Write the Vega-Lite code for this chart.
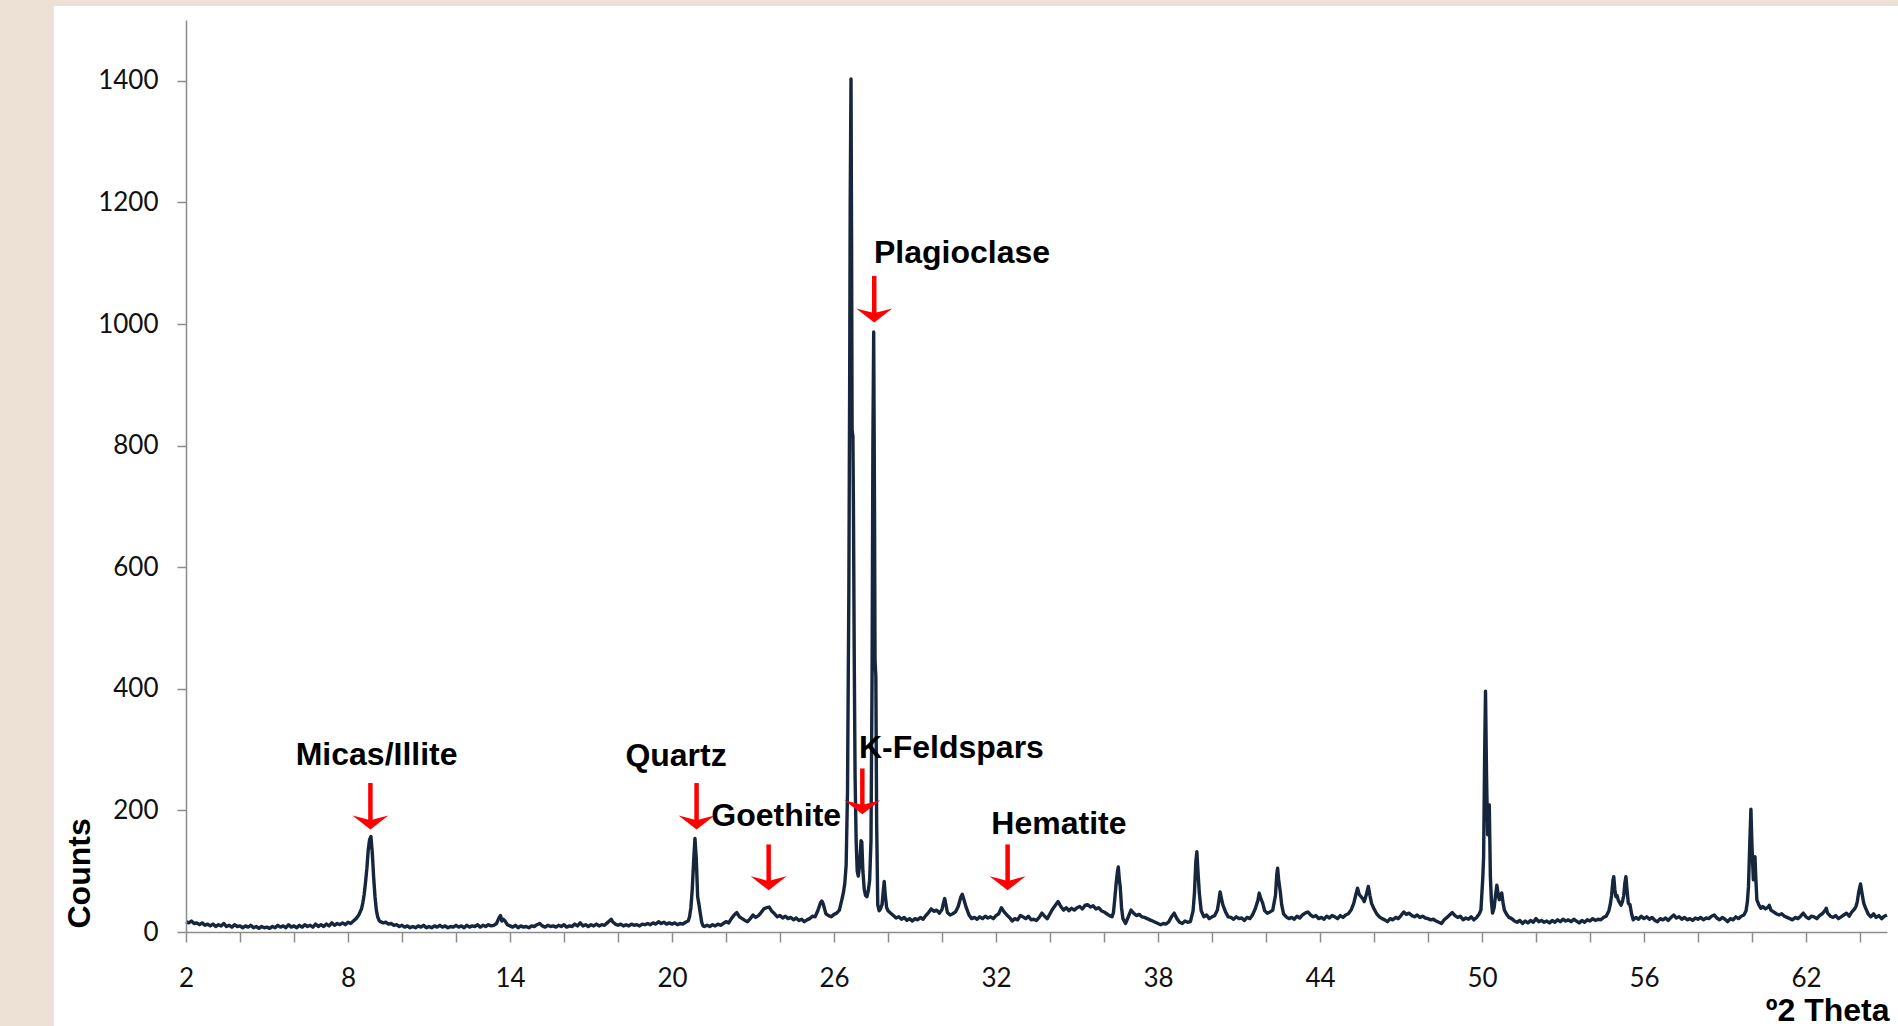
{
  "$schema": "https://vega.github.io/schema/vega-lite/v6.json",
  "width": 1701,
  "height": 912,
  "padding": {"left": 53, "top": 6, "right": 0, "bottom": 0},
  "autosize": {"type": "pad"},
  "background": "#EDE1D6",
  "config": {"view": {"stroke": null}},
  "datasets": {
    "xrd": [
      {"theta":2.0,"counts":17},{"theta":2.1,"counts":15},{"theta":2.2,"counts":18},{"theta":2.3,"counts":14},{"theta":2.4,"counts":15},{"theta":2.5,"counts":12},{"theta":2.6,"counts":15},{"theta":2.7,"counts":11},{"theta":2.8,"counts":13},{"theta":2.9,"counts":10},
      {"theta":3.0,"counts":13},{"theta":3.1,"counts":9},{"theta":3.2,"counts":12},{"theta":3.3,"counts":10},{"theta":3.4,"counts":14},{"theta":3.5,"counts":9},{"theta":3.6,"counts":11},{"theta":3.7,"counts":8},{"theta":3.8,"counts":12},{"theta":3.9,"counts":9},
      {"theta":4.0,"counts":10},{"theta":4.1,"counts":7},{"theta":4.2,"counts":10},{"theta":4.3,"counts":8},{"theta":4.4,"counts":11},{"theta":4.5,"counts":7},{"theta":4.6,"counts":9},{"theta":4.7,"counts":6},{"theta":4.8,"counts":9},{"theta":4.9,"counts":7},
      {"theta":5.0,"counts":8},{"theta":5.1,"counts":6},{"theta":5.2,"counts":9},{"theta":5.3,"counts":7},{"theta":5.4,"counts":11},{"theta":5.5,"counts":8},{"theta":5.6,"counts":10},{"theta":5.7,"counts":7},{"theta":5.8,"counts":12},{"theta":5.9,"counts":8},
      {"theta":6.0,"counts":10},{"theta":6.1,"counts":7},{"theta":6.2,"counts":11},{"theta":6.3,"counts":8},{"theta":6.4,"counts":12},{"theta":6.5,"counts":9},{"theta":6.6,"counts":11},{"theta":6.7,"counts":8},{"theta":6.8,"counts":13},{"theta":6.9,"counts":9},
      {"theta":7.0,"counts":12},{"theta":7.1,"counts":9},{"theta":7.2,"counts":13},{"theta":7.3,"counts":10},{"theta":7.4,"counts":15},{"theta":7.5,"counts":11},{"theta":7.6,"counts":14},{"theta":7.7,"counts":12},{"theta":7.8,"counts":15},{"theta":7.9,"counts":12},
      {"theta":8.0,"counts":16},{"theta":8.1,"counts":14},{"theta":8.2,"counts":18},{"theta":8.3,"counts":22},{"theta":8.4,"counts":28},{"theta":8.5,"counts":38},{"theta":8.55,"counts":48},{"theta":8.6,"counts":62},{"theta":8.65,"counts":82},{"theta":8.7,"counts":105},
      {"theta":8.75,"counts":135},{"theta":8.8,"counts":152},{"theta":8.85,"counts":157},{"theta":8.9,"counts":130},{"theta":8.95,"counts":90},{"theta":9.0,"counts":58},{"theta":9.05,"counts":36},{"theta":9.1,"counts":25},{"theta":9.15,"counts":19},{"theta":9.2,"counts":17},
      {"theta":9.3,"counts":15},{"theta":9.4,"counts":16},{"theta":9.5,"counts":13},{"theta":9.6,"counts":14},{"theta":9.7,"counts":11},{"theta":9.8,"counts":12},{"theta":9.9,"counts":9},{"theta":10.0,"counts":11},
      {"theta":10.1,"counts":8},{"theta":10.2,"counts":10},{"theta":10.3,"counts":7},{"theta":10.4,"counts":9},{"theta":10.5,"counts":7},{"theta":10.6,"counts":10},{"theta":10.7,"counts":8},{"theta":10.8,"counts":11},{"theta":10.9,"counts":7},{"theta":11.0,"counts":9},
      {"theta":11.1,"counts":7},{"theta":11.2,"counts":10},{"theta":11.3,"counts":8},{"theta":11.4,"counts":11},{"theta":11.5,"counts":8},{"theta":11.6,"counts":10},{"theta":11.7,"counts":7},{"theta":11.8,"counts":9},{"theta":11.9,"counts":8},{"theta":12.0,"counts":11},
      {"theta":12.1,"counts":8},{"theta":12.2,"counts":10},{"theta":12.3,"counts":7},{"theta":12.4,"counts":11},{"theta":12.5,"counts":8},{"theta":12.6,"counts":10},{"theta":12.7,"counts":9},{"theta":12.8,"counts":12},{"theta":12.9,"counts":8},{"theta":13.0,"counts":11},
      {"theta":13.1,"counts":9},{"theta":13.2,"counts":12},{"theta":13.3,"counts":10},{"theta":13.4,"counts":11},{"theta":13.5,"counts":14},{"theta":13.6,"counts":24},{"theta":13.65,"counts":27},{"theta":13.7,"counts":18},{"theta":13.75,"counts":21},{"theta":13.8,"counts":19},
      {"theta":13.9,"counts":12},{"theta":14.0,"counts":10},{"theta":14.1,"counts":8},{"theta":14.2,"counts":11},{"theta":14.3,"counts":7},{"theta":14.4,"counts":10},{"theta":14.5,"counts":8},{"theta":14.6,"counts":9},{"theta":14.7,"counts":7},{"theta":14.8,"counts":10},
      {"theta":14.9,"counts":9},{"theta":15.0,"counts":12},{"theta":15.1,"counts":14},{"theta":15.2,"counts":10},{"theta":15.3,"counts":8},{"theta":15.4,"counts":11},{"theta":15.5,"counts":9},{"theta":15.6,"counts":10},{"theta":15.7,"counts":8},{"theta":15.8,"counts":11},
      {"theta":15.9,"counts":9},{"theta":16.0,"counts":12},{"theta":16.1,"counts":8},{"theta":16.2,"counts":10},{"theta":16.3,"counts":9},{"theta":16.4,"counts":13},{"theta":16.5,"counts":10},{"theta":16.6,"counts":15},{"theta":16.7,"counts":10},{"theta":16.8,"counts":12},
      {"theta":16.9,"counts":9},{"theta":17.0,"counts":12},{"theta":17.1,"counts":10},{"theta":17.2,"counts":13},{"theta":17.3,"counts":10},{"theta":17.4,"counts":12},{"theta":17.5,"counts":11},{"theta":17.6,"counts":15},{"theta":17.7,"counts":19},{"theta":17.75,"counts":21},
      {"theta":17.8,"counts":17},{"theta":17.9,"counts":13},{"theta":18.0,"counts":11},{"theta":18.1,"counts":13},{"theta":18.2,"counts":10},{"theta":18.3,"counts":12},{"theta":18.4,"counts":10},{"theta":18.5,"counts":13},{"theta":18.6,"counts":11},{"theta":18.7,"counts":12},
      {"theta":18.8,"counts":10},{"theta":18.9,"counts":13},{"theta":19.0,"counts":12},{"theta":19.1,"counts":14},{"theta":19.2,"counts":12},{"theta":19.3,"counts":15},{"theta":19.4,"counts":13},{"theta":19.5,"counts":17},{"theta":19.6,"counts":14},{"theta":19.7,"counts":16},
      {"theta":19.8,"counts":13},{"theta":19.9,"counts":15},{"theta":20.0,"counts":13},{"theta":20.1,"counts":15},{"theta":20.2,"counts":12},{"theta":20.3,"counts":14},{"theta":20.4,"counts":13},{"theta":20.5,"counts":16},{"theta":20.6,"counts":18},{"theta":20.65,"counts":25},
      {"theta":20.7,"counts":40},{"theta":20.75,"counts":70},{"theta":20.8,"counts":115},{"theta":20.85,"counts":154},{"theta":20.9,"counts":120},{"theta":20.95,"counts":58},{"theta":21.0,"counts":45},{"theta":21.05,"counts":30},{"theta":21.1,"counts":16},{"theta":21.15,"counts":10},
      {"theta":21.2,"counts":9},{"theta":21.3,"counts":11},{"theta":21.4,"counts":9},{"theta":21.5,"counts":12},{"theta":21.6,"counts":10},{"theta":21.7,"counts":13},{"theta":21.8,"counts":11},{"theta":21.9,"counts":14},{"theta":22.0,"counts":17},{"theta":22.1,"counts":15},
      {"theta":22.2,"counts":22},{"theta":22.3,"counts":28},{"theta":22.4,"counts":32},{"theta":22.5,"counts":25},{"theta":22.6,"counts":22},{"theta":22.7,"counts":19},{"theta":22.8,"counts":17},{"theta":22.9,"counts":22},{"theta":23.0,"counts":28},{"theta":23.1,"counts":24},
      {"theta":23.2,"counts":27},{"theta":23.3,"counts":32},{"theta":23.4,"counts":38},{"theta":23.5,"counts":40},{"theta":23.6,"counts":41},{"theta":23.7,"counts":34},{"theta":23.8,"counts":30},{"theta":23.9,"counts":25},{"theta":24.0,"counts":27},{"theta":24.1,"counts":23},
      {"theta":24.2,"counts":26},{"theta":24.3,"counts":22},{"theta":24.4,"counts":24},{"theta":24.5,"counts":20},{"theta":24.6,"counts":23},{"theta":24.7,"counts":19},{"theta":24.8,"counts":21},{"theta":24.9,"counts":17},{"theta":25.0,"counts":20},{"theta":25.1,"counts":22},
      {"theta":25.2,"counts":26},{"theta":25.3,"counts":25},{"theta":25.4,"counts":35},{"theta":25.5,"counts":48},{"theta":25.55,"counts":51},{"theta":25.6,"counts":46},{"theta":25.7,"counts":30},{"theta":25.8,"counts":27},{"theta":25.9,"counts":25},{"theta":26.0,"counts":29},
      {"theta":26.1,"counts":31},{"theta":26.2,"counts":36},{"theta":26.3,"counts":55},{"theta":26.35,"counts":65},{"theta":26.4,"counts":80},{"theta":26.45,"counts":110},{"theta":26.5,"counts":230},{"theta":26.55,"counts":560},{"theta":26.58,"counts":900},{"theta":26.6,"counts":1200},
      {"theta":26.63,"counts":1403},{"theta":26.65,"counts":1150},{"theta":26.67,"counts":826},{"theta":26.7,"counts":815},{"theta":26.72,"counts":700},{"theta":26.75,"counts":450},{"theta":26.78,"counts":260},{"theta":26.82,"counts":150},{"theta":26.86,"counts":100},{"theta":26.9,"counts":92},
      {"theta":26.95,"counts":110},{"theta":27.0,"counts":150},{"theta":27.03,"counts":148},{"theta":27.07,"counts":100},{"theta":27.12,"counts":70},{"theta":27.17,"counts":60},{"theta":27.22,"counts":58},{"theta":27.27,"counts":68},{"theta":27.32,"counts":85},{"theta":27.37,"counts":150},
      {"theta":27.41,"counts":420},{"theta":27.44,"counts":800},{"theta":27.47,"counts":987},{"theta":27.5,"counts":700},{"theta":27.52,"counts":445},{"theta":27.55,"counts":420},{"theta":27.58,"counts":180},{"theta":27.62,"counts":45},{"theta":27.67,"counts":35},{"theta":27.72,"counts":38},
      {"theta":27.78,"counts":45},{"theta":27.83,"counts":70},{"theta":27.86,"counts":83},{"theta":27.9,"counts":60},{"theta":27.95,"counts":40},{"theta":28.0,"counts":35},{"theta":28.1,"counts":31},{"theta":28.2,"counts":27},{"theta":28.3,"counts":23},{"theta":28.4,"counts":25},
      {"theta":28.5,"counts":21},{"theta":28.6,"counts":24},{"theta":28.7,"counts":19},{"theta":28.8,"counts":22},{"theta":28.9,"counts":18},{"theta":29.0,"counts":22},{"theta":29.1,"counts":20},{"theta":29.2,"counts":24},{"theta":29.3,"counts":21},{"theta":29.4,"counts":27},
      {"theta":29.5,"counts":32},{"theta":29.6,"counts":38},{"theta":29.7,"counts":34},{"theta":29.8,"counts":36},{"theta":29.9,"counts":31},{"theta":30.0,"counts":37},{"theta":30.05,"counts":47},{"theta":30.1,"counts":55},{"theta":30.15,"counts":44},{"theta":30.2,"counts":32},
      {"theta":30.3,"counts":28},{"theta":30.4,"counts":30},{"theta":30.5,"counts":33},{"theta":30.6,"counts":42},{"theta":30.7,"counts":58},{"theta":30.75,"counts":62},{"theta":30.8,"counts":55},{"theta":30.9,"counts":40},{"theta":31.0,"counts":28},{"theta":31.1,"counts":22},
      {"theta":31.2,"counts":24},{"theta":31.3,"counts":21},{"theta":31.4,"counts":25},{"theta":31.5,"counts":22},{"theta":31.6,"counts":26},{"theta":31.7,"counts":23},{"theta":31.8,"counts":25},{"theta":31.9,"counts":22},{"theta":32.0,"counts":27},{"theta":32.1,"counts":30},
      {"theta":32.2,"counts":40},{"theta":32.3,"counts":33},{"theta":32.4,"counts":28},{"theta":32.5,"counts":24},{"theta":32.6,"counts":18},{"theta":32.7,"counts":22},{"theta":32.8,"counts":20},{"theta":32.9,"counts":27},{"theta":33.0,"counts":25},{"theta":33.1,"counts":22},
      {"theta":33.2,"counts":26},{"theta":33.3,"counts":20},{"theta":33.4,"counts":21},{"theta":33.5,"counts":19},{"theta":33.6,"counts":24},{"theta":33.7,"counts":31},{"theta":33.8,"counts":26},{"theta":33.9,"counts":22},{"theta":34.0,"counts":30},{"theta":34.1,"counts":38},
      {"theta":34.2,"counts":44},{"theta":34.3,"counts":50},{"theta":34.4,"counts":42},{"theta":34.5,"counts":36},{"theta":34.6,"counts":40},{"theta":34.7,"counts":35},{"theta":34.8,"counts":39},{"theta":34.9,"counts":36},{"theta":35.0,"counts":40},{"theta":35.1,"counts":42},
      {"theta":35.2,"counts":38},{"theta":35.3,"counts":44},{"theta":35.4,"counts":45},{"theta":35.5,"counts":41},{"theta":35.6,"counts":43},{"theta":35.7,"counts":38},{"theta":35.8,"counts":40},{"theta":35.9,"counts":35},{"theta":36.0,"counts":33},{"theta":36.1,"counts":30},
      {"theta":36.2,"counts":27},{"theta":36.3,"counts":25},{"theta":36.35,"counts":32},{"theta":36.4,"counts":55},{"theta":36.45,"counts":80},{"theta":36.5,"counts":100},{"theta":36.53,"counts":107},{"theta":36.57,"counts":85},{"theta":36.6,"counts":75},{"theta":36.65,"counts":40},
      {"theta":36.7,"counts":22},{"theta":36.8,"counts":14},{"theta":36.9,"counts":25},{"theta":37.0,"counts":36},{"theta":37.1,"counts":31},{"theta":37.2,"counts":27},{"theta":37.3,"counts":29},{"theta":37.4,"counts":25},{"theta":37.5,"counts":24},{"theta":37.6,"counts":22},
      {"theta":37.7,"counts":20},{"theta":37.8,"counts":18},{"theta":37.9,"counts":16},{"theta":38.0,"counts":14},{"theta":38.1,"counts":12},{"theta":38.2,"counts":14},{"theta":38.3,"counts":13},{"theta":38.4,"counts":17},{"theta":38.5,"counts":25},{"theta":38.6,"counts":31},
      {"theta":38.7,"counts":22},{"theta":38.8,"counts":16},{"theta":38.9,"counts":14},{"theta":39.0,"counts":18},{"theta":39.1,"counts":16},{"theta":39.2,"counts":17},{"theta":39.3,"counts":35},{"theta":39.35,"counts":64},{"theta":39.4,"counts":115},{"theta":39.44,"counts":132},
      {"theta":39.48,"counts":100},{"theta":39.53,"counts":64},{"theta":39.6,"counts":35},{"theta":39.7,"counts":25},{"theta":39.8,"counts":28},{"theta":39.9,"counts":22},{"theta":40.0,"counts":25},{"theta":40.1,"counts":27},{"theta":40.2,"counts":36},{"theta":40.25,"counts":50},
      {"theta":40.3,"counts":66},{"theta":40.35,"counts":55},{"theta":40.4,"counts":45},{"theta":40.5,"counts":33},{"theta":40.6,"counts":25},{"theta":40.7,"counts":24},{"theta":40.8,"counts":21},{"theta":40.9,"counts":25},{"theta":41.0,"counts":22},{"theta":41.1,"counts":23},
      {"theta":41.2,"counts":19},{"theta":41.3,"counts":24},{"theta":41.4,"counts":22},{"theta":41.5,"counts":28},{"theta":41.6,"counts":38},{"theta":41.7,"counts":52},{"theta":41.75,"counts":64},{"theta":41.8,"counts":56},{"theta":41.88,"counts":47},{"theta":41.95,"counts":35},
      {"theta":42.05,"counts":31},{"theta":42.15,"counts":33},{"theta":42.25,"counts":36},{"theta":42.35,"counts":60},{"theta":42.4,"counts":95},{"theta":42.43,"counts":105},{"theta":42.47,"counts":85},{"theta":42.53,"counts":66},{"theta":42.58,"counts":45},{"theta":42.65,"counts":30},
      {"theta":42.75,"counts":25},{"theta":42.85,"counts":22},{"theta":42.95,"counts":24},{"theta":43.05,"counts":21},{"theta":43.15,"counts":26},{"theta":43.25,"counts":23},{"theta":43.35,"counts":28},{"theta":43.45,"counts":31},{"theta":43.55,"counts":33},{"theta":43.65,"counts":28},
      {"theta":43.75,"counts":25},{"theta":43.85,"counts":27},{"theta":43.95,"counts":22},{"theta":44.05,"counts":24},{"theta":44.15,"counts":21},{"theta":44.25,"counts":26},{"theta":44.35,"counts":23},{"theta":44.45,"counts":27},{"theta":44.55,"counts":25},{"theta":44.65,"counts":22},
      {"theta":44.75,"counts":27},{"theta":44.85,"counts":24},{"theta":44.95,"counts":28},{"theta":45.05,"counts":30},{"theta":45.15,"counts":36},{"theta":45.25,"counts":47},{"theta":45.32,"counts":60},{"theta":45.39,"counts":72},{"theta":45.45,"counts":62},{"theta":45.52,"counts":58},
      {"theta":45.58,"counts":55},{"theta":45.64,"counts":50},{"theta":45.72,"counts":62},{"theta":45.79,"counts":75},{"theta":45.85,"counts":60},{"theta":45.91,"counts":47},{"theta":46.0,"counts":38},{"theta":46.1,"counts":30},{"theta":46.2,"counts":25},{"theta":46.3,"counts":22},
      {"theta":46.4,"counts":20},{"theta":46.5,"counts":17},{"theta":46.6,"counts":22},{"theta":46.7,"counts":20},{"theta":46.8,"counts":24},{"theta":46.9,"counts":22},{"theta":47.0,"counts":27},{"theta":47.1,"counts":33},{"theta":47.2,"counts":29},{"theta":47.3,"counts":31},
      {"theta":47.4,"counts":27},{"theta":47.5,"counts":25},{"theta":47.6,"counts":28},{"theta":47.7,"counts":24},{"theta":47.8,"counts":26},{"theta":47.9,"counts":23},{"theta":48.0,"counts":22},{"theta":48.1,"counts":20},{"theta":48.2,"counts":21},{"theta":48.3,"counts":18},
      {"theta":48.4,"counts":16},{"theta":48.5,"counts":14},{"theta":48.6,"counts":20},{"theta":48.7,"counts":24},{"theta":48.8,"counts":28},{"theta":48.9,"counts":32},{"theta":49.0,"counts":27},{"theta":49.1,"counts":24},{"theta":49.2,"counts":26},{"theta":49.3,"counts":20},
      {"theta":49.4,"counts":23},{"theta":49.5,"counts":21},{"theta":49.6,"counts":25},{"theta":49.7,"counts":20},{"theta":49.8,"counts":24},{"theta":49.9,"counts":30},{"theta":49.96,"counts":36},{"theta":50.03,"counts":90},{"theta":50.06,"counts":124},{"theta":50.1,"counts":300},
      {"theta":50.13,"counts":396},{"theta":50.17,"counts":250},{"theta":50.21,"counts":160},{"theta":50.24,"counts":205},{"theta":50.27,"counts":209},{"theta":50.29,"counts":150},{"theta":50.31,"counts":91},{"theta":50.35,"counts":50},{"theta":50.39,"counts":31},{"theta":50.45,"counts":40},
      {"theta":50.5,"counts":60},{"theta":50.55,"counts":77},{"theta":50.6,"counts":62},{"theta":50.64,"counts":53},{"theta":50.68,"counts":60},{"theta":50.73,"counts":64},{"theta":50.78,"counts":48},{"theta":50.83,"counts":36},{"theta":50.9,"counts":30},{"theta":51.0,"counts":24},
      {"theta":51.1,"counts":22},{"theta":51.2,"counts":18},{"theta":51.3,"counts":16},{"theta":51.4,"counts":19},{"theta":51.5,"counts":14},{"theta":51.6,"counts":18},{"theta":51.7,"counts":15},{"theta":51.8,"counts":19},{"theta":51.9,"counts":16},{"theta":52.0,"counts":22},
      {"theta":52.1,"counts":17},{"theta":52.2,"counts":19},{"theta":52.3,"counts":16},{"theta":52.4,"counts":18},{"theta":52.5,"counts":15},{"theta":52.6,"counts":19},{"theta":52.7,"counts":16},{"theta":52.8,"counts":20},{"theta":52.9,"counts":17},{"theta":53.0,"counts":21},
      {"theta":53.1,"counts":18},{"theta":53.2,"counts":20},{"theta":53.3,"counts":17},{"theta":53.4,"counts":21},{"theta":53.5,"counts":18},{"theta":53.6,"counts":15},{"theta":53.7,"counts":19},{"theta":53.8,"counts":16},{"theta":53.9,"counts":20},{"theta":54.0,"counts":18},
      {"theta":54.1,"counts":22},{"theta":54.2,"counts":19},{"theta":54.3,"counts":21},{"theta":54.4,"counts":20},{"theta":54.5,"counts":24},{"theta":54.6,"counts":26},{"theta":54.7,"counts":35},{"theta":54.75,"counts":45},{"theta":54.8,"counts":60},{"theta":54.85,"counts":85},
      {"theta":54.88,"counts":91},{"theta":54.92,"counts":70},{"theta":54.96,"counts":58},{"theta":55.0,"counts":60},{"theta":55.05,"counts":52},{"theta":55.1,"counts":48},{"theta":55.15,"counts":44},{"theta":55.2,"counts":50},{"theta":55.25,"counts":60},{"theta":55.29,"counts":80},
      {"theta":55.33,"counts":91},{"theta":55.37,"counts":70},{"theta":55.42,"counts":47},{"theta":55.48,"counts":45},{"theta":55.54,"counts":30},{"theta":55.6,"counts":20},{"theta":55.7,"counts":24},{"theta":55.8,"counts":21},{"theta":55.9,"counts":26},{"theta":56.0,"counts":22},
      {"theta":56.1,"counts":25},{"theta":56.2,"counts":21},{"theta":56.3,"counts":24},{"theta":56.4,"counts":19},{"theta":56.5,"counts":17},{"theta":56.6,"counts":22},{"theta":56.7,"counts":20},{"theta":56.8,"counts":23},{"theta":56.9,"counts":19},{"theta":57.0,"counts":24},
      {"theta":57.1,"counts":28},{"theta":57.2,"counts":23},{"theta":57.3,"counts":25},{"theta":57.4,"counts":21},{"theta":57.5,"counts":24},{"theta":57.6,"counts":20},{"theta":57.7,"counts":22},{"theta":57.8,"counts":19},{"theta":57.9,"counts":23},{"theta":58.0,"counts":21},
      {"theta":58.1,"counts":24},{"theta":58.2,"counts":20},{"theta":58.3,"counts":23},{"theta":58.4,"counts":22},{"theta":58.5,"counts":26},{"theta":58.6,"counts":28},{"theta":58.7,"counts":23},{"theta":58.8,"counts":20},{"theta":58.9,"counts":24},{"theta":59.0,"counts":21},
      {"theta":59.1,"counts":17},{"theta":59.2,"counts":22},{"theta":59.3,"counts":20},{"theta":59.4,"counts":25},{"theta":59.5,"counts":22},{"theta":59.6,"counts":26},{"theta":59.7,"counts":28},{"theta":59.78,"counts":35},{"theta":59.83,"counts":50},{"theta":59.87,"counts":75},
      {"theta":59.92,"counts":150},{"theta":59.96,"counts":202},{"theta":60.0,"counts":140},{"theta":60.05,"counts":86},{"theta":60.08,"counts":105},{"theta":60.11,"counts":124},{"theta":60.14,"counts":90},{"theta":60.18,"counts":53},{"theta":60.25,"counts":45},{"theta":60.33,"counts":39},
      {"theta":60.4,"counts":42},{"theta":60.5,"counts":38},{"theta":60.6,"counts":41},{"theta":60.64,"counts":44},{"theta":60.7,"counts":36},{"theta":60.8,"counts":33},{"theta":60.9,"counts":30},{"theta":61.0,"counts":28},{"theta":61.1,"counts":30},{"theta":61.2,"counts":26},
      {"theta":61.3,"counts":24},{"theta":61.4,"counts":22},{"theta":61.5,"counts":20},{"theta":61.6,"counts":24},{"theta":61.7,"counts":22},{"theta":61.8,"counts":26},{"theta":61.9,"counts":31},{"theta":62.0,"counts":25},{"theta":62.1,"counts":22},{"theta":62.2,"counts":26},
      {"theta":62.3,"counts":25},{"theta":62.4,"counts":22},{"theta":62.5,"counts":27},{"theta":62.6,"counts":30},{"theta":62.7,"counts":35},{"theta":62.75,"counts":39},{"theta":62.8,"counts":31},{"theta":62.9,"counts":26},{"theta":63.0,"counts":24},{"theta":63.1,"counts":27},
      {"theta":63.2,"counts":22},{"theta":63.3,"counts":25},{"theta":63.4,"counts":28},{"theta":63.5,"counts":31},{"theta":63.6,"counts":26},{"theta":63.7,"counts":33},{"theta":63.8,"counts":38},{"theta":63.85,"counts":42},{"theta":63.9,"counts":50},{"theta":63.95,"counts":65},
      {"theta":64.02,"counts":79},{"theta":64.08,"counts":62},{"theta":64.14,"counts":47},{"theta":64.2,"counts":40},{"theta":64.3,"counts":30},{"theta":64.4,"counts":25},{"theta":64.5,"counts":30},{"theta":64.6,"counts":24},{"theta":64.7,"counts":27},{"theta":64.8,"counts":22},
      {"theta":64.9,"counts":26},{"theta":65.0,"counts":28}
    ],
    "labels": [
      {"theta": 9.06, "counts": 275, "mineral": "Micas/Illite"},
      {"theta": 20.15, "counts": 273, "mineral": "Quartz"},
      {"theta": 23.86, "counts": 174, "mineral": "Goethite"},
      {"theta": 30.35, "counts": 286, "mineral": "K-Feldspars"},
      {"theta": 34.33, "counts": 162, "mineral": "Hematite"},
      {"theta": 30.74, "counts": 1100, "mineral": "Plagioclase"}
    ],
    "arrows": [
      {"theta": 8.83, "top": 245, "head": 181},
      {"theta": 20.91, "top": 245, "head": 181},
      {"theta": 23.58, "top": 144, "head": 81},
      {"theta": 27.05, "top": 269, "head": 206},
      {"theta": 32.43, "top": 144, "head": 81},
      {"theta": 27.49, "top": 1079, "head": 1015}
    ]
  },
  "layer": [
    {
      "data": {"values": [{"panel": "white"}]},
      "mark": {"type": "rect", "color": "#FFFFFF", "clip": false},
      "encoding": {
        "x": {"datum": -2.9, "type": "quantitative", "scale": {"domain": [2, 65], "nice": false, "zero": false}},
        "x2": {"datum": 65.45},
        "y": {"datum": 1523, "type": "quantitative", "scale": {"domain": [0, 1500], "nice": false, "zero": false}},
        "y2": {"datum": -154.6}
      }
    },
    {
      "data": {"name": "xrd"},
      "mark": {"type": "line", "color": "#16263D", "strokeWidth": 3.4, "strokeJoin": "round"},
      "encoding": {
        "x": {
          "field": "theta", "type": "quantitative",
          "scale": {"domain": [2, 65], "nice": false, "zero": false},
          "axis": {
            "zindex": 1,
            "title": "º2 Theta",
            "values": [2,3,4,5,6,7,8,9,10,11,12,13,14,15,16,17,18,19,20,21,22,23,24,25,26,27,28,29,30,31,32,33,34,35,36,37,38,39,40,41,42,43,44,45,46,47,48,49,50,51,52,53,54,55,56,57,58,59,60,61,62,63,64,65],
            "labelExpr": "(datum.value - 2) % 6 == 0 ? datum.label : ''",
            "labelOverlap": false,
            "labelFlush": false,
            "labelBound": false,
            "grid": false,
            "domainColor": "#8C8C8C",
            "domainWidth": 1.5,
            "tickColor": "#8C8C8C",
            "tickWidth": 1.5,
            "tickSize": 10,
            "labelFont": "Lato",
            "labelFontSize": 26,
            "labelColor": "#111111",
            "labelBaseline": "middle",
            "labelPadding": 36,
            "titleFont": "Liberation Sans",
            "titleFontSize": 32,
            "titleFontWeight": "bold",
            "titleColor": "#000000",
            "titleAnchor": "end",
            "titleAlign": "right",
            "titleBaseline": "alphabetic",
            "titleX": 1703,
            "titleY": 88
          }
        },
        "y": {
          "field": "counts", "type": "quantitative",
          "scale": {"domain": [0, 1500], "nice": false, "zero": false},
          "axis": {
            "zindex": 1,
            "title": "Counts",
            "format": "d",
            "values": [0, 200, 400, 600, 800, 1000, 1200, 1400],
            "grid": false,
            "domainColor": "#8C8C8C",
            "domainWidth": 1.5,
            "tickColor": "#8C8C8C",
            "tickWidth": 1.5,
            "tickSize": 9,
            "labelFont": "Lato",
            "labelFontSize": 26,
            "labelColor": "#111111",
            "labelPadding": 19,
            "labelFlush": false,
            "labelOverlap": false,
            "titleFont": "Liberation Sans",
            "titleFontSize": 32,
            "titleFontWeight": "bold",
            "titleColor": "#000000",
            "titleAngle": 270,
            "titleAlign": "left",
            "titleBaseline": "alphabetic",
            "titleX": -97,
            "titleY": 908
          }
        }
      }
    },
    {
      "data": {"name": "arrows"},
      "mark": {"type": "rule", "color": "#FF0000", "strokeWidth": 4.5, "strokeCap": "butt"},
      "encoding": {
        "x": {"field": "theta", "type": "quantitative", "scale": {"domain": [2, 65], "nice": false, "zero": false}},
        "y": {"field": "top", "type": "quantitative", "scale": {"domain": [0, 1500], "nice": false, "zero": false}},
        "y2": {"field": "head"}
      }
    },
    {
      "data": {"name": "arrows"},
      "mark": {"type": "point", "filled": true, "color": "#FF0000", "opacity": 1, "strokeWidth": 0, "size": 1296, "shape": "M0,0.42 L-1,-0.36 Q-0.45,-0.22 0,-0.1 Q0.45,-0.22 1,-0.36 Z"},
      "encoding": {
        "x": {"field": "theta", "type": "quantitative", "scale": {"domain": [2, 65], "nice": false, "zero": false}},
        "y": {"field": "head", "type": "quantitative", "scale": {"domain": [0, 1500], "nice": false, "zero": false}}
      }
    },
    {
      "data": {"name": "labels"},
      "mark": {"type": "text", "font": "Liberation Sans", "fontSize": 32, "fontWeight": "bold", "color": "#000000", "align": "center", "baseline": "alphabetic"},
      "encoding": {
        "x": {"field": "theta", "type": "quantitative", "scale": {"domain": [2, 65], "nice": false, "zero": false}},
        "y": {"field": "counts", "type": "quantitative", "scale": {"domain": [0, 1500], "nice": false, "zero": false}},
        "text": {"field": "mineral"}
      }
    }
  ]
}
